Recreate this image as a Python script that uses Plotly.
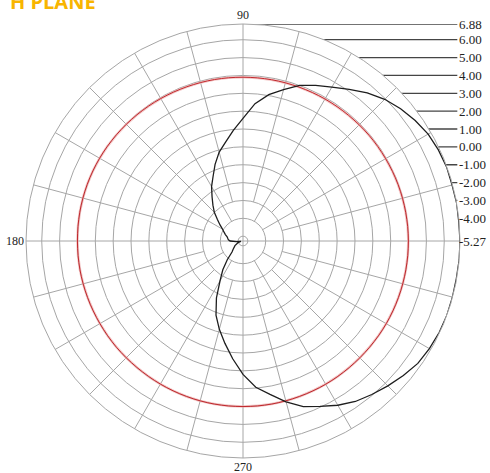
import plotly.graph_objects as go

# ---- data (dB vs azimuth, degrees) ----
black_theta = [0, 5, 10, 15, 20, 25, 30, 35, 40, 45, 50, 55, 60, 65, 70, 75, 80, 85, 90,
               95, 100, 105, 110, 115, 120, 125, 130, 135, 140, 145, 150, 155, 160, 165,
               170, 175, 180, 185, 190, 195, 200, 210, 220, 225, 230, 235, 240, 245, 250,
               255, 260, 265, 270, 275, 280, 285, 290, 295, 300, 305, 310, 315, 320, 325,
               330, 335, 340, 345, 350, 355, 360]
black_db = [6.88, 6.86, 6.88, 6.85, 6.86, 6.80, 6.70, 6.50, 6.25, 5.95, 5.55, 5.10, 4.68,
            4.35, 4.00, 3.50, 3.05, 2.45, 1.60, 0.95, 0.35, -0.12, -0.70, -1.30, -1.75,
            -2.25, -2.65, -3.00, -3.40, -3.70, -3.95, -4.10, -4.22, -4.35, -4.40, -4.45,
            -4.55, -4.90, -5.15, -5.10, -4.95, -4.75, -4.55, -4.40, -3.90, -3.30, -2.70,
            -1.75, -0.85, -0.15, 0.55, 1.35, 2.20, 2.95, 3.45, 4.05, 4.60, 4.95, 5.35,
            5.70, 5.95, 6.20, 6.45, 6.68, 6.78, 6.85, 6.88, 6.87, 6.86, 6.88, 6.88]

red_theta = list(range(0, 361, 10))
red_db = [3.99, 3.98, 3.97, 3.95, 3.94, 3.92, 3.91, 3.90, 3.90, 3.90, 3.91, 3.92, 3.94,
          3.96, 3.98, 4.00, 4.01, 4.01, 4.00, 4.00, 3.99, 3.98, 3.98, 3.97, 3.98, 3.99,
          4.00, 4.00, 4.00, 3.99, 3.99, 3.98, 3.98, 3.99, 3.99, 3.99, 3.99]

level_labels = [6.88, 6.00, 5.00, 4.00, 3.00, 2.00, 1.00, 0.00, -1.00, -2.00, -3.00,
                -4.00, -5.27]
ring_levels = [-5, -4, -3, -2, -1, 0, 1, 2, 3, 4, 5, 6]
angle_labels = ["90", "180", "270"]

r_min, r_max = -5.27, 6.88
span = r_max - r_min

# ---- layout geometry (pixels of a 490x473 page) ----
W, H = 490, 473
cx, cy, rad = 243, 241, 217
dom_x = [(cx - rad) / W, (cx + rad) / W]
dom_y = [1 - (cy + rad) / H, 1 - (cy - rad) / H]

fig = go.Figure()

# spokes every 15 degrees (axes from the centre, others from inner rings)
sp_r, sp_t = [], []
for a in range(0, 360, 15):
    if a % 90 == 0:
        start = r_min
    elif a % 30 == 0:
        start = -4
    else:
        start = -3
    sp_r += [start, r_max, None]
    sp_t += [a, a, None]
fig.add_trace(go.Scatterpolar(r=sp_r, theta=sp_t, mode="lines",
                              line=dict(color="#a6a6a6", width=1),
                              hoverinfo="skip", showlegend=False))

# red pattern (with soft halo)
fig.add_trace(go.Scatterpolar(r=red_db, theta=red_theta, mode="lines",
                              line=dict(color="rgba(238,175,175,0.7)", width=2.6, shape="spline"),
                              hoverinfo="skip", showlegend=False))
fig.add_trace(go.Scatterpolar(r=red_db, theta=red_theta, mode="lines",
                              line=dict(color="#c0282d", width=1.0, shape="spline"),
                              name="red", showlegend=False))
# black pattern
fig.add_trace(go.Scatterpolar(r=black_db, theta=black_theta, mode="lines",
                              line=dict(color="#1e1e1e", width=1.3),
                              name="black", showlegend=False))

# horizontal level-label lines on an overlaid cartesian frame
hx, hy = [], []
for lv in level_labels:
    hx += [0.5, span - 0.15, None]
    hy += [lv, lv, None]
fig.add_trace(go.Scatter(x=hx, y=hy, mode="lines",
                         line=dict(color="#454545", width=1.3),
                         hoverinfo="skip", showlegend=False,
                         xaxis="x", yaxis="y"))

annotations = []
for lv in level_labels:
    annotations.append(dict(x=span - 0.15, y=lv, xref="x", yref="y", text=f"{lv:.2f}",
                            showarrow=False, xanchor="left", yanchor="middle",
                            font=dict(family="Liberation Serif", size=13, color="#222")))
serif = dict(family="Liberation Serif", size=12, color="#222")
annotations.append(dict(x=0, y=r_max, xref="x", yref="y", text=angle_labels[0],
                        showarrow=False, xanchor="center", yanchor="bottom", font=serif))
annotations.append(dict(x=-span, y=r_min, xref="x", yref="y", text=angle_labels[1],
                        showarrow=False, xanchor="right", yanchor="middle", font=serif))
annotations.append(dict(x=0, y=r_min - span, xref="x", yref="y", text=angle_labels[2],
                        showarrow=False, xanchor="center", yanchor="top", font=serif))
annotations.append(dict(x=8 / W, y=1 - 17 / H, xref="paper", yref="paper", text="<b>H PLANE</b>",
                        showarrow=False, xanchor="left", yanchor="bottom",
                        font=dict(family="Open Sans", size=20, color="#F8B500")))

fig.update_layout(
    width=W, height=H,
    margin=dict(l=0, r=0, t=0, b=0),
    paper_bgcolor="white",
    plot_bgcolor="rgba(0,0,0,0)",
    showlegend=False,
    polar=dict(
        domain=dict(x=dom_x, y=dom_y),
        bgcolor="white",
        radialaxis=dict(range=[r_min, r_max], tickvals=ring_levels, showticklabels=False,
                        ticks="", showline=False, gridcolor="#a6a6a6", gridwidth=1),
        angularaxis=dict(showgrid=False, showline=True, linecolor="#a6a6a6", linewidth=1,
                         showticklabels=False, ticks="", rotation=0,
                         direction="counterclockwise"),
    ),
    xaxis=dict(domain=dom_x, range=[-span, span], visible=False, fixedrange=True),
    yaxis=dict(domain=dom_y, range=[r_min - span, r_max], visible=False, fixedrange=True),
    annotations=annotations,
)

fig.write_html("out.html",
               config={"displayModeBar": False},
               post_script="document.body.style.margin='0';document.body.style.overflow='hidden';")
